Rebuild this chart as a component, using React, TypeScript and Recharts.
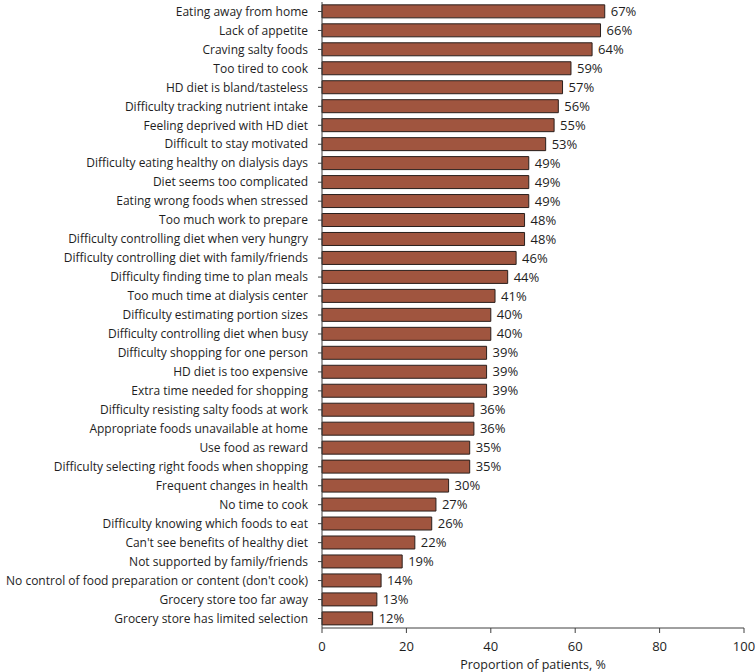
import { BarChart, Bar, XAxis, YAxis, LabelList } from 'recharts';

const barriers = [
    'Eating away from home',
    'Lack of appetite',
    'Craving salty foods',
    'Too tired to cook',
    'HD diet is bland/tasteless',
    'Difficulty tracking nutrient intake',
    'Feeling deprived with HD diet',
    'Difficult to stay motivated',
    'Difficulty eating healthy on dialysis days',
    'Diet seems too complicated',
    'Eating wrong foods when stressed',
    'Too much work to prepare',
    'Difficulty controlling diet when very hungry',
    'Difficulty controlling diet with family/friends',
    'Difficulty finding time to plan meals',
    'Too much time at dialysis center',
    'Difficulty estimating portion sizes',
    'Difficulty controlling diet when busy',
    'Difficulty shopping for one person',
    'HD diet is too expensive',
    'Extra time needed for shopping',
    'Difficulty resisting salty foods at work',
    'Appropriate foods unavailable at home',
    'Use food as reward',
    'Difficulty selecting right foods when shopping',
    'Frequent changes in health',
    'No time to cook',
    'Difficulty knowing which foods to eat',
    "Can't see benefits of healthy diet",
    'Not supported by family/friends',
    "No control of food preparation or content (don't cook)",
    'Grocery store too far away',
    'Grocery store has limited selection',
];

const percents = [
    67, 66, 64, 59, 57, 56, 55, 53, 49, 49, 49, 48, 48, 46, 44, 41, 40,
    40, 39, 39, 39, 36, 36, 35, 35, 30, 27, 26, 22, 19, 14, 13, 12,
];

const xTicks = [0, 20, 40, 60, 80, 100];

const FONT = '"Open Sans", sans-serif';
const TEXT = '#1e1e1e';

// plain tick so the long labels never wrap
function CategoryTick(props: any) {
    const { x, y, payload } = props;
    return (
        <text x={x} y={y} dy="0.35em" textAnchor="end" fill={TEXT} fontSize={12} fontFamily={FONT}>
            {payload.value}
        </text>
    );
}

// number tick, baseline placed under the axis line
function ValueTick(props: any) {
    const { x, payload } = props;
    return (
        <text x={x} y={651} textAnchor="middle" fill={TEXT} fontSize={13} fontFamily={FONT}>
            {payload.value}
        </text>
    );
}

export default function App() {
    const data = barriers.map((name, i) => ({ name, value: percents[i] }));

    return (
        <div style={{ position: 'absolute', left: 0, top: 0, width: 756, height: 672, background: '#fff' }}>
            <BarChart
                width={756}
                height={672}
                data={data}
                layout="vertical"
                margin={{ top: 2, right: 12, left: 0, bottom: 0 }}
                barCategoryGap="15%"
            >
                <XAxis
                    type="number"
                    domain={[0, 100]}
                    ticks={xTicks}
                    height={44}
                    stroke="#404040"
                    tickSize={5}
                    tick={<ValueTick />}
                    label={{
                        value: 'Proportion of patients, %',
                        position: 'insideBottom',
                        offset: 3,
                        fill: TEXT,
                        fontSize: 12.5,
                        fontFamily: FONT,
                    }}
                />
                <YAxis
                    type="category"
                    dataKey="name"
                    width={322}
                    interval={0}
                    stroke="#404040"
                    tickSize={4}
                    tickMargin={10}
                    tick={<CategoryTick />}
                />
                <Bar dataKey="value" fill="#A0553F" stroke="#2a1f1c" strokeWidth={1} isAnimationActive={false}>
                    <LabelList
                        dataKey="value"
                        position="right"
                        offset={6}
                        formatter={(v: number) => `${v}%`}
                        style={{ fill: TEXT, fontSize: 13, fontFamily: FONT }}
                    />
                </Bar>
            </BarChart>
        </div>
    );
}
